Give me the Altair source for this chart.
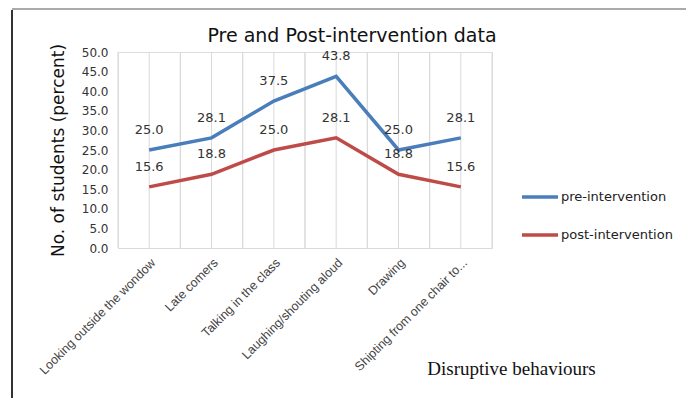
import altair as alt
import pandas as pd

categories = ["Looking outside the wondow", "Late comers", "Talking in the class",
              "Laughing/shouting aloud", "Drawing", "Shipting from one chair to..."]
pre_values = [25.0, 28.1, 37.5, 43.8, 25.0, 28.1]
post_values = [15.6, 18.8, 25.0, 28.1, 18.8, 15.6]
series_names = ["pre-intervention", "post-intervention"]
series_colors = ["#4A7EBB", "#BE4B48"]
y_ticks = [0, 5, 10, 15, 20, 25, 30, 35, 40, 45, 50]
chart_title = "Pre and Post-intervention data"

rows = []
for c, a, b in zip(categories, pre_values, post_values):
    rows.append({"cat": c, "series": series_names[0], "value": a})
    rows.append({"cat": c, "series": series_names[1], "value": b})
df = pd.DataFrame(rows)
cat_df = pd.DataFrame({"cat": categories})
one = pd.DataFrame({"a": [0]})
title_df = pd.DataFrame({"t": [chart_title]})

W, H = 374, 196
FONT = "DejaVu Sans"

xscale = alt.Scale(type="band", domain=categories, paddingInner=0, paddingOuter=0)
yscale = alt.Scale(domain=[0, 50])

x_axis = alt.Axis(title="Disruptive behaviours", labelAngle=-45,
                  labelFontSize=12.5, labelFont="Liberation Sans", labelColor="#444444",
                  labelPadding=8, ticks=False, domainColor="#D9D9D9",
                  grid=False, labelLimit=250,
                  titleFont="Liberation Serif", titleFontSize=19,
                  titleFontWeight="normal", titleColor="#111111",
                  titleX=393, titleY=120, titleAlign="center",
                  titleBaseline="middle")
y_axis = alt.Axis(title="No. of students (percent)", values=y_ticks,
                  format=".1f", labelFont=FONT, labelFontSize=12,
                  labelColor="#333333", labelPadding=10, ticks=False,
                  domain=False, grid=False,
                  titleFont=FONT, titleFontSize=17, titleFontWeight="normal",
                  titleColor="#111111", titleX=-60, titleY=98,
                  titleAngle=-90, titleAlign="center",
                  titleBaseline="middle")


def xe(bp=0.5):
    return alt.X("cat:N", scale=xscale, sort=categories, bandPosition=bp, axis=x_axis)


def ye():
    return alt.Y("value:Q", scale=yscale, axis=y_axis)


grid_kw = dict(color="#D9D9D9", strokeWidth=1)
grid0 = alt.Chart(cat_df).mark_rule(**grid_kw).encode(
    x=xe(0), y=alt.value(0), y2=alt.value(H))
grid5 = alt.Chart(cat_df).mark_rule(**grid_kw).encode(
    x=xe(0.5), y=alt.value(0), y2=alt.value(H))
grid1 = alt.Chart(cat_df).mark_rule(**grid_kw).encode(
    x=xe(1), y=alt.value(0), y2=alt.value(H))

color_enc = alt.Color("series:N",
                      scale=alt.Scale(domain=series_names, range=series_colors),
                      legend=alt.Legend(title=None, orient="none", legendX=402,
                                        legendY=125, symbolType="stroke",
                                        symbolSize=1296, symbolStrokeWidth=3.5,
                                        labelFont=FONT, labelFontSize=13,
                                        labelColor="#222222", labelOffset=1,
                                        rowPadding=11, padding=0))

lines = alt.Chart(df).mark_line(strokeWidth=3.5).encode(
    x=xe(), y=ye(), color=color_enc, detail="series:N")
labels = alt.Chart(df).mark_text(dy=-20, font=FONT, fontSize=13, color="#333333").encode(
    x=xe(), y=ye(), text=alt.Text("value:Q", format=".1f"))

title_mark = alt.Chart(title_df).mark_text(
    font=FONT, fontSize=19, color="#111111", align="center", baseline="middle"
).encode(x=alt.value(234), y=alt.value(-16), text="t:N")

frame_left = alt.Chart(one).mark_rule(color="#333333", strokeWidth=2).encode(
    x=alt.value(-106), y=alt.value(-42), y2=alt.value(346))
frame_top = alt.Chart(one).mark_rule(color="#AAAAAA", strokeWidth=2).encode(
    x=alt.value(-106), x2=alt.value(568), y=alt.value(-43))

chart = alt.layer(grid0, grid5, grid1, lines, labels, title_mark,
                  frame_left, frame_top).properties(
    width=W, height=H,
    autosize=alt.AutoSizeParams(type="none"),
    padding={"left": 118, "top": 52, "right": 194, "bottom": 150},
).configure_view(stroke=None).configure(background="white")

chart.save("out.html", embed_options={"renderer": "svg", "actions": False})
